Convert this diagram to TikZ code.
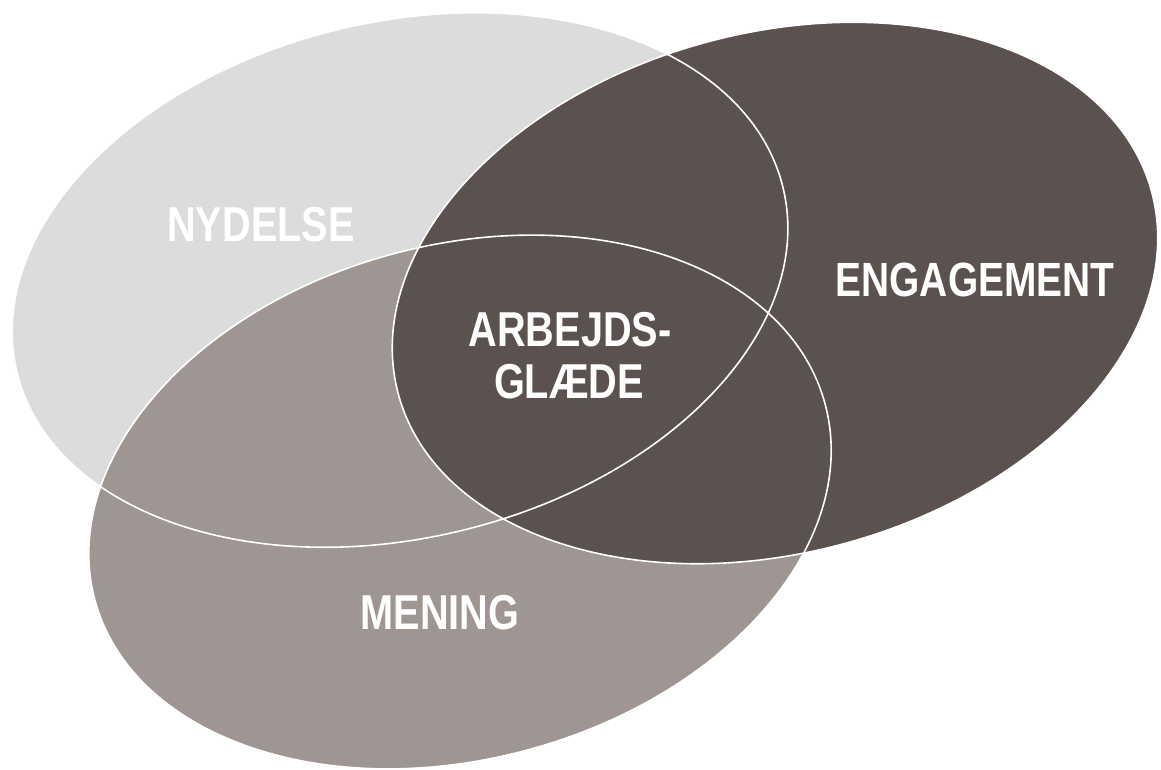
\documentclass[tikz,border=0pt]{standalone}
\usepackage{fontspec}
\setmainfont{Liberation Sans}
\definecolor{nycol}{HTML}{DCDCDC}
\definecolor{mecol}{HTML}{9F9593}
\definecolor{encol}{HTML}{5B514F}
\tikzset{
  outline/.style={draw=white, line width=1.6pt},
  lbl/.style={text=white, inner sep=0pt, anchor=center, font=\fontsize{49}{52}\selectfont\bfseries}
}
\newcommand{\nar}[1]{\scalebox{0.81}[1]{#1}}
\begin{document}
\begin{tikzpicture}[x=1pt,y=-1pt]
\useasboundingbox (0,0) rectangle (1161,769);
\fill[white] (0,0) rectangle (1161,769);
\begin{scope}
\clip (0,0) rectangle (1161,769);
% fills
\begin{scope}[shift={(400,280)},rotate=13.5]
  \fill[nycol] (0,0) ellipse [x radius=394, y radius=258];
\end{scope}
\begin{scope}[shift={(460,502)},rotate=15]
  \fill[mecol] (0,0) ellipse [x radius=378, y radius=257];
\end{scope}
\begin{scope}[shift={(775,293)},rotate=15]
  \fill[encol] (0,0) ellipse [x radius=390, y radius=260];
\end{scope}
% outlines
\begin{scope}[shift={(400,280)},rotate=13.5]
  \draw[outline] (0,0) ellipse [x radius=394, y radius=258];
\end{scope}
\begin{scope}[shift={(460,502)},rotate=15]
  \draw[outline] (0,0) ellipse [x radius=378, y radius=257];
\end{scope}
\begin{scope}[shift={(775,293)},rotate=15]
  \draw[outline] (0,0) ellipse [x radius=390, y radius=260];
\end{scope}
\end{scope}
% labels
\node[lbl] (nydelse) at (261,225) {\nar{NYDELSE}};
\node[lbl, font=\fontsize{48}{52}\selectfont\bfseries] (engagement) at (975,280) {\nar{ENGAGEMENT}};
\node[lbl] (arb1) at (570,329.5) {\nar{ARBEJDS-}};
\node[lbl] (arb2) at (569,382) {\nar{GLÆDE}};
\node[lbl] (mening) at (440,613) {\nar{MENING}};
\end{tikzpicture}
\end{document}
